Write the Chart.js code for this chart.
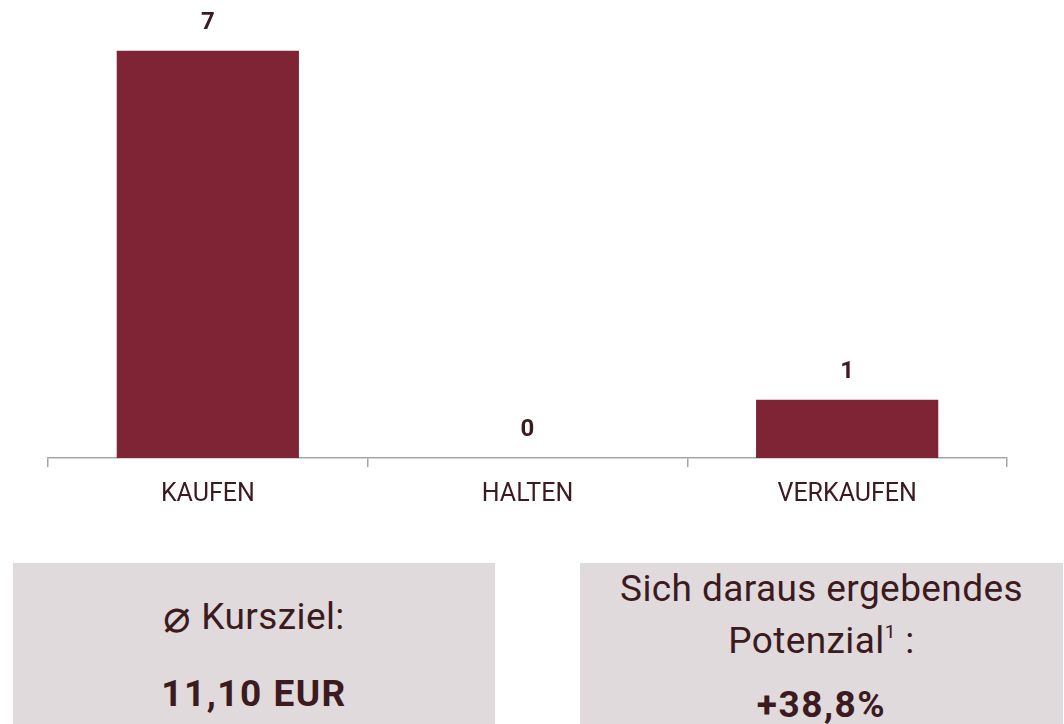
<!DOCTYPE html>
<html>
<head>
<meta charset="utf-8">
<script src="https://cdn.jsdelivr.net/npm/chart.js@4"></script>
<style>
  html, body { margin: 0; padding: 0; background: #fff; }
  body { width: 1064px; height: 724px; position: relative; overflow: hidden; }
  #chartWrap { position: absolute; left: 0; top: 0; width: 1064px; height: 523px; }
  .box {
    position: absolute; top: 563px; height: 161px; background: #e0dadc;
    color: #3b1a20; font-family: Roboto, sans-serif;
    text-align: center;
  }
  .box .t { position: absolute; left: 0; right: 0; font-size: 37px; line-height: 40px; letter-spacing: 0.4px; }
  .box .v { position: absolute; left: 0; right: 0; font-size: 37px; font-weight: bold; line-height: 40px; letter-spacing: 1.5px; }
  .dia { font-size: 46px; vertical-align: -3px; line-height: 0; }
  sup { font-size: 19px; vertical-align: 15px; line-height: 0; }
</style>
</head>
<body>
<div id="chartWrap"><canvas id="chart"></canvas></div>

<div class="box" style="left:13px; width:482px;">
  <div class="t" style="top:34px;"><span class="dia">⌀</span> Kursziel:</div>
  <div class="v" style="top:111px;">11,10 EUR</div>
</div>
<div class="box" style="left:580px; width:483px;">
  <div class="t" style="top:6px;">Sich daraus ergebendes</div>
  <div class="t" style="top:58px;">Potenzial<sup>1</sup> :</div>
  <div class="v" style="top:122px;">+38,8%</div>
</div>

<script>
// data
const categories = ['KAUFEN', 'HALTEN', 'VERKAUFEN'];
const ratings = [7, 0, 1];

const barColor = '#7e2435';
const textColor = '#3b1a20';

// value labels above the bars
const valueLabels = {
  id: 'valueLabels',
  afterDatasetsDraw(chart) {
    const ctx = chart.ctx;
    const meta = chart.getDatasetMeta(0);
    ctx.save();
    ctx.font = 'bold 24px Roboto, sans-serif';
    ctx.fillStyle = textColor;
    ctx.textAlign = 'center';
    ctx.textBaseline = 'middle';
    meta.data.forEach((bar, i) => {
      ctx.fillText(String(ratings[i]), bar.x, bar.y - 28);
    });
    ctx.restore();
  }
};

new Chart(document.getElementById('chart'), {
  type: 'bar',
  data: {
    labels: categories,
    datasets: [{
      data: ratings,
      backgroundColor: barColor,
      barPercentage: 0.57,
      categoryPercentage: 1.0
    }]
  },
  options: {
    responsive: true,
    maintainAspectRatio: false,
    animation: false,
    layout: { padding: { left: 48, right: 57, top: 10, bottom: 0 } },
    plugins: { legend: { display: false }, tooltip: { enabled: false } },
    scales: {
      x: {
        grid: {
          offset: true,
          drawOnChartArea: false,
          drawTicks: true,
          tickLength: 9,
          color: '#a6a6a6',
          lineWidth: 1.5
        },
        border: { display: true, color: '#a6a6a6', width: 1.5 },
        ticks: {
          color: textColor,
          font: { family: 'Roboto, sans-serif', size: 25 },
          padding: 13
        }
      },
      y: {
        display: false,
        min: 0,
        max: 7.7
      }
    }
  },
  plugins: [valueLabels]
});
</script>
</body>
</html>
